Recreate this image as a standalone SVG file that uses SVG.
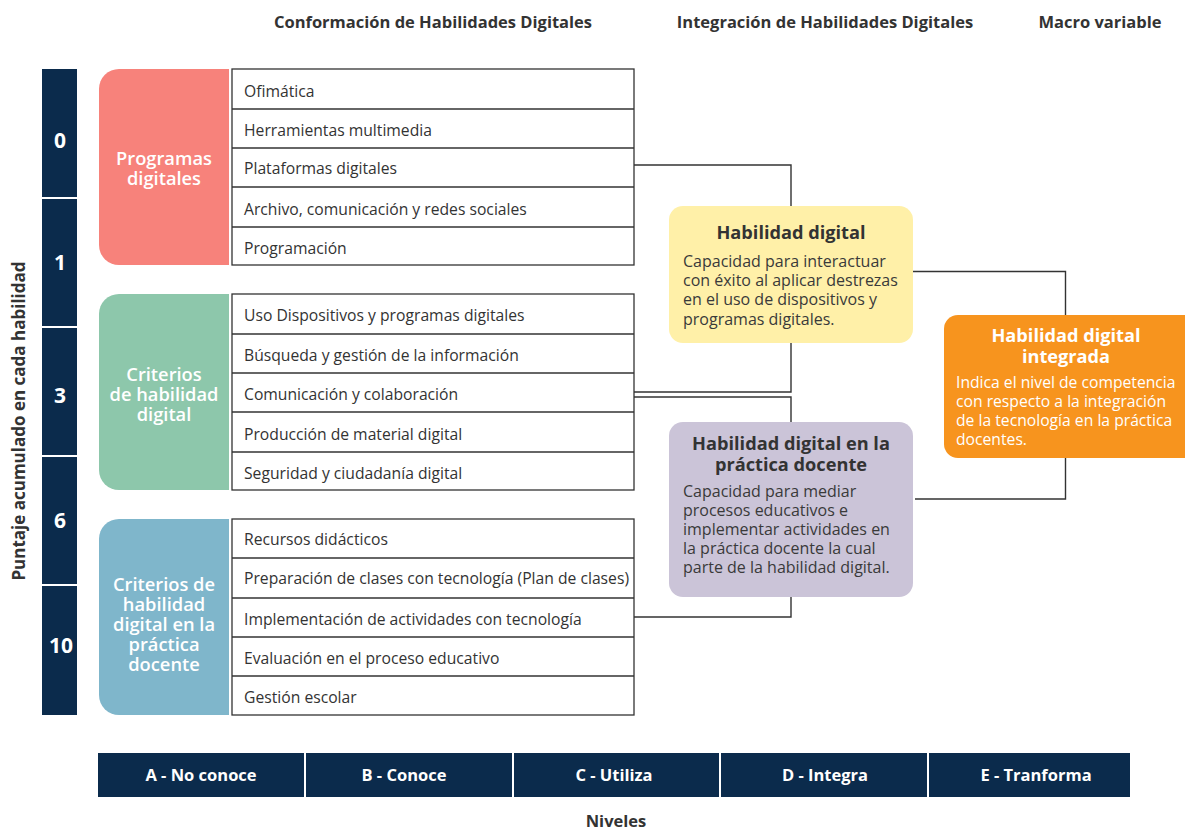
<svg xmlns="http://www.w3.org/2000/svg" width="1185" height="832" viewBox="0 0 1185 832">
<style>
text{font-family:"Open Sans","Liberation Sans",sans-serif;}
.hdr{font-size:16.5px;font-weight:700;fill:#333;text-anchor:middle;}
.num{font-size:21px;font-weight:700;fill:#fff;text-anchor:middle;}
.cat{font-size:18.3px;font-weight:600;fill:#fff;text-anchor:middle;}
.row{font-size:15.7px;fill:#333;}
.tbl{fill:#fff;stroke:#333;stroke-width:1.3;}
.sep{stroke:#333;stroke-width:1.3;}
.con{fill:none;stroke:#333;stroke-width:1.4;}
.ttl{font-size:18.2px;font-weight:700;fill:#333;text-anchor:middle;}
.body{font-size:16px;fill:#3a3a3a;}
.wttl{font-size:18.2px;font-weight:700;fill:#fff;text-anchor:middle;}
.wbody{font-size:15.7px;fill:#fff;}
.lvl{fill:#0b2b4c;}
.lvlt{font-size:16.5px;font-weight:700;fill:#fff;text-anchor:middle;}
</style>
<rect width="1185" height="832" fill="#fff"/>

<g id="headers">
<text class="hdr" x="433" y="28">Conformación de Habilidades Digitales</text>
<text class="hdr" x="825" y="28">Integración de Habilidades Digitales</text>
<text class="hdr" x="1100" y="28">Macro variable</text>
</g>

<g id="score-axis">
<text class="hdr" transform="translate(25,421) rotate(-90)" style="font-size:17px">Puntaje acumulado en cada habilidad</text>
<rect x="42" y="69" width="35" height="646" fill="#0b2b4c"/>
<g stroke="#fff" stroke-width="2">
<line x1="42" y1="198" x2="77" y2="198"/>
<line x1="42" y1="327" x2="77" y2="327"/>
<line x1="42" y1="456" x2="77" y2="456"/>
<line x1="42" y1="585" x2="77" y2="585"/>
</g>
<text class="num" x="60" y="148">0</text>
<text class="num" x="60" y="270">1</text>
<text class="num" x="60" y="403">3</text>
<text class="num" x="60" y="528">6</text>
<text class="num" x="61" y="653">10</text>
</g>

<g id="programas-digitales">
<path d="M119,69 H229 V265 H119 A20,20 0 0 1 99,245 V89 A20,20 0 0 1 119,69 Z" fill="#f7827b"/>
<text class="cat" x="164" y="165">Programas</text>
<text class="cat" x="164" y="185">digitales</text>
<rect class="tbl" x="232" y="69" width="402" height="196"/>
<line class="sep" x1="232" y1="109" x2="634" y2="109"/>
<line class="sep" x1="232" y1="148" x2="634" y2="148"/>
<line class="sep" x1="232" y1="187" x2="634" y2="187"/>
<line class="sep" x1="232" y1="227" x2="634" y2="227"/>
<text class="row" x="244" y="97">Ofimática</text>
<text class="row" x="244" y="136">Herramientas multimedia</text>
<text class="row" x="244" y="174">Plataformas digitales</text>
<text class="row" x="244" y="215">Archivo, comunicación y redes sociales</text>
<text class="row" x="244" y="254">Programación</text>
</g>

<g id="criterios-habilidad-digital">
<path d="M119,294 H229 V490 H119 A20,20 0 0 1 99,470 V314 A20,20 0 0 1 119,294 Z" fill="#8dc7ab"/>
<text class="cat" x="164" y="381">Criterios</text>
<text class="cat" x="164" y="401">de habilidad</text>
<text class="cat" x="164" y="421">digital</text>
<rect class="tbl" x="232" y="294" width="402" height="196"/>
<line class="sep" x1="232" y1="334" x2="634" y2="334"/>
<line class="sep" x1="232" y1="373" x2="634" y2="373"/>
<line class="sep" x1="232" y1="412" x2="634" y2="412"/>
<line class="sep" x1="232" y1="452" x2="634" y2="452"/>
<text class="row" x="244" y="321">Uso Dispositivos y programas digitales</text>
<text class="row" x="244" y="361">Búsqueda y gestión de la información</text>
<text class="row" x="244" y="400">Comunicación y colaboración</text>
<text class="row" x="244" y="440">Producción de material digital</text>
<text class="row" x="244" y="479">Seguridad y ciudadanía digital</text>
</g>

<g id="criterios-practica-docente">
<path d="M119,519 H229 V715 H119 A20,20 0 0 1 99,695 V539 A20,20 0 0 1 119,519 Z" fill="#7fb6cb"/>
<text class="cat" x="164" y="591">Criterios de</text>
<text class="cat" x="164" y="611">habilidad</text>
<text class="cat" x="164" y="631">digital en la</text>
<text class="cat" x="164" y="651">práctica</text>
<text class="cat" x="164" y="671">docente</text>
<rect class="tbl" x="232" y="519" width="402" height="196"/>
<line class="sep" x1="232" y1="558" x2="634" y2="558"/>
<line class="sep" x1="232" y1="598" x2="634" y2="598"/>
<line class="sep" x1="232" y1="637" x2="634" y2="637"/>
<line class="sep" x1="232" y1="676" x2="634" y2="676"/>
<text class="row" x="244" y="545">Recursos didácticos</text>
<text class="row" x="244" y="584">Preparación de clases con tecnología (Plan de clases)</text>
<text class="row" x="244" y="625">Implementación de actividades con tecnología</text>
<text class="row" x="244" y="664">Evaluación en el proceso educativo</text>
<text class="row" x="244" y="703">Gestión escolar</text>
</g>

<g id="connectors">
<polyline class="con" points="634,165 791,165 791,206"/>
<polyline class="con" points="791,343 791,392 634,392"/>
<polyline class="con" points="634,397 791,397 791,422"/>
<polyline class="con" points="791,597 791,617 634,617"/>
<polyline class="con" points="913,271.5 1065.5,271.5 1065.5,315"/>
<polyline class="con" points="1065.5,458 1065.5,499 915,499"/>
</g>

<g id="habilidad-digital">
<rect x="669" y="206" width="244" height="137" rx="14" fill="#fff0a8"/>
<text class="ttl" x="791" y="239">Habilidad digital</text>
<text class="body" x="683" y="267">Capacidad para interactuar</text>
<text class="body" x="683" y="286">con éxito al aplicar destrezas</text>
<text class="body" x="683" y="305">en el uso de dispositivos y</text>
<text class="body" x="683" y="325">programas digitales.</text>
</g>

<g id="habilidad-practica-docente">
<rect x="669" y="422" width="244" height="175" rx="14" fill="#cbc4d8"/>
<text class="ttl" x="791" y="450">Habilidad digital en la</text>
<text class="ttl" x="791" y="471">práctica docente</text>
<text class="body" x="683" y="497">Capacidad para mediar</text>
<text class="body" x="683" y="516">procesos educativos e</text>
<text class="body" x="683" y="535">implementar actividades en</text>
<text class="body" x="683" y="554">la práctica docente la cual</text>
<text class="body" x="683" y="573">parte de la habilidad digital.</text>
</g>

<g id="habilidad-integrada">
<rect x="944" y="315" width="256" height="143" rx="14" fill="#f7941e"/>
<text class="wttl" x="1066" y="342">Habilidad digital</text>
<text class="wttl" x="1066" y="363">integrada</text>
<text class="wbody" x="956" y="388">Indica el nivel de competencia</text>
<text class="wbody" x="956" y="407">con respecto a la integración</text>
<text class="wbody" x="956" y="426">de la tecnología en la práctica</text>
<text class="wbody" x="956" y="445">docentes.</text>
</g>

<g id="niveles">
<rect class="lvl" x="98" y="753" width="206" height="44"/>
<rect class="lvl" x="306" y="753" width="206" height="44"/>
<rect class="lvl" x="514" y="753" width="205" height="44"/>
<rect class="lvl" x="721" y="753" width="206" height="44"/>
<rect class="lvl" x="929" y="753" width="201" height="44"/>
<text class="lvlt" x="201" y="781">A - No conoce</text>
<text class="lvlt" x="404" y="781">B - Conoce</text>
<text class="lvlt" x="614" y="781">C - Utiliza</text>
<text class="lvlt" x="825" y="781">D - Integra</text>
<text class="lvlt" x="1036" y="781">E - Tranforma</text>
<text class="hdr" x="616" y="827">Niveles</text>
</g>
</svg>
